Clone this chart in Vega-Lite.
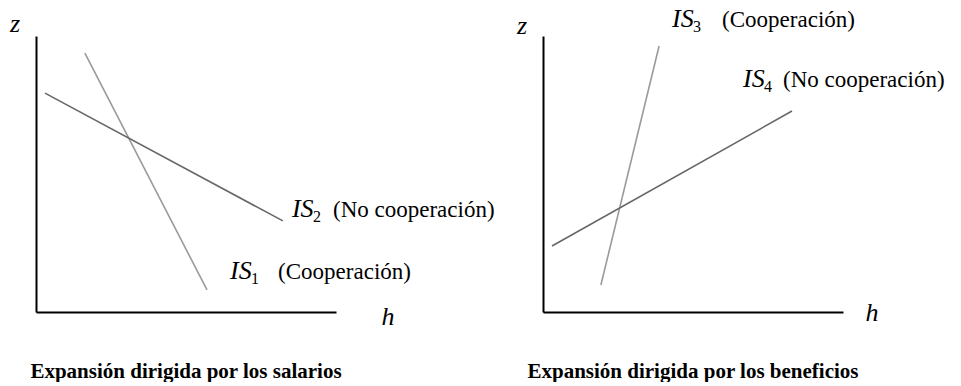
{
  "$schema": "https://vega.github.io/schema/vega-lite/v6.json",
  "bounds": "flush",
  "padding": {"left": 9, "top": 5, "right": 0, "bottom": 0},
  "background": "white",
  "data": {"values": [
    {"panel": "Expansión dirigida por los salarios", "ord": 1, "kind": "line", "series": "IS1", "h": 1.63, "z": 9.38},
    {"panel": "Expansión dirigida por los salarios", "ord": 1, "kind": "line", "series": "IS1", "h": 5.7, "z": 0.8},
    {"panel": "Expansión dirigida por los salarios", "ord": 1, "kind": "line", "series": "IS2", "h": 0.3, "z": 7.93},
    {"panel": "Expansión dirigida por los salarios", "ord": 1, "kind": "line", "series": "IS2", "h": 8.23, "z": 3.3},
    {"panel": "Expansión dirigida por los beneficios", "ord": 2, "kind": "line", "series": "IS3", "h": 1.93, "z": 0.98},
    {"panel": "Expansión dirigida por los beneficios", "ord": 2, "kind": "line", "series": "IS3", "h": 3.87, "z": 9.64},
    {"panel": "Expansión dirigida por los beneficios", "ord": 2, "kind": "line", "series": "IS4", "h": 0.3, "z": 2.39},
    {"panel": "Expansión dirigida por los beneficios", "ord": 2, "kind": "line", "series": "IS4", "h": 8.3, "z": 7.28},
    {"panel": "Expansión dirigida por los salarios", "ord": 1, "kind": "is", "sub": "2", "h": 8.53, "z": 3.44},
    {"panel": "Expansión dirigida por los salarios", "ord": 1, "kind": "is", "sub": "1", "h": 6.47, "z": 1.2},
    {"panel": "Expansión dirigida por los beneficios", "ord": 2, "kind": "is", "sub": "3", "h": 4.3, "z": 10.33},
    {"panel": "Expansión dirigida por los beneficios", "ord": 2, "kind": "is", "sub": "4", "h": 6.67, "z": 8.15},
    {"panel": "Expansión dirigida por los salarios", "ord": 1, "kind": "note", "label": "(No cooperación)", "h": 9.9, "z": 3.44},
    {"panel": "Expansión dirigida por los salarios", "ord": 1, "kind": "note", "label": "(Cooperación)", "h": 8.07, "z": 1.2},
    {"panel": "Expansión dirigida por los beneficios", "ord": 2, "kind": "note", "label": "(Cooperación)", "h": 5.97, "z": 10.33},
    {"panel": "Expansión dirigida por los beneficios", "ord": 2, "kind": "note", "label": "(No cooperación)", "h": 8.0, "z": 8.15},
    {"panel": "Expansión dirigida por los salarios", "ord": 1, "kind": "axislabel", "label": "z", "h": -0.7, "z": 10.14},
    {"panel": "Expansión dirigida por los salarios", "ord": 1, "kind": "axislabel", "label": "h", "h": 11.73, "z": -0.47},
    {"panel": "Expansión dirigida por los beneficios", "ord": 2, "kind": "axislabel", "label": "z", "h": -0.7, "z": 10.07},
    {"panel": "Expansión dirigida por los beneficios", "ord": 2, "kind": "axislabel", "label": "h", "h": 10.97, "z": -0.33}
  ]},
  "facet": {
    "column": {
      "field": "panel",
      "type": "nominal",
      "title": null,
      "sort": {"field": "ord", "op": "min"},
      "header": {
        "labelOrient": "bottom",
        "labelFont": "Liberation Serif",
        "labelFontSize": 21,
        "labelFontWeight": "bold",
        "labelColor": "black",
        "labelBaseline": "alphabetic",
        "labelPadding": 66
      }
    }
  },
  "spacing": 207,
  "resolve": {"axis": {"y": "independent", "x": "independent"}},
  "spec": {
    "width": 300,
    "height": 276,
    "encoding": {
      "x": {"field": "h", "type": "quantitative", "scale": {"domain": [0, 10], "nice": false, "zero": false},
            "axis": {"title": null, "ticks": false, "labels": false, "grid": false, "domainColor": "black", "domainWidth": 2}},
      "y": {"field": "z", "type": "quantitative", "scale": {"domain": [0, 10], "nice": false, "zero": false},
            "axis": {"title": null, "ticks": false, "labels": false, "grid": false, "domainColor": "black", "domainWidth": 2}}
    },
    "layer": [
      {
        "transform": [{"filter": "datum.kind === 'line'"}],
        "mark": {"type": "line", "strokeWidth": 1.6},
        "encoding": {
          "detail": {"field": "series"},
          "color": {"field": "series", "type": "nominal", "legend": null,
                    "scale": {"domain": ["IS1", "IS2", "IS3", "IS4"], "range": ["#9a9a9a", "#676767", "#9a9a9a", "#676767"]}}
        }
      },
      {
        "transform": [{"filter": "datum.kind === 'is'"}],
        "mark": {"type": "text", "font": "Liberation Serif", "fontStyle": "italic", "fontSize": 26, "align": "left", "baseline": "alphabetic", "color": "black"},
        "encoding": {"text": {"value": "IS"}}
      },
      {
        "transform": [{"filter": "datum.kind === 'is'"}],
        "mark": {"type": "text", "font": "Liberation Serif", "fontSize": 16, "align": "left", "baseline": "alphabetic", "color": "black", "dx": 21, "dy": 5},
        "encoding": {"text": {"field": "sub"}}
      },
      {
        "transform": [{"filter": "datum.kind === 'note'"}],
        "mark": {"type": "text", "font": "Liberation Serif", "fontSize": 23, "align": "left", "baseline": "alphabetic", "color": "black"},
        "encoding": {"text": {"field": "label"}}
      },
      {
        "transform": [{"filter": "datum.kind === 'axislabel'"}],
        "mark": {"type": "text", "font": "Liberation Serif", "fontStyle": "italic", "fontSize": 26, "align": "center", "baseline": "alphabetic", "color": "black"},
        "encoding": {"text": {"field": "label"}}
      }
    ]
  },
  "config": {"view": {"stroke": null}}
}
